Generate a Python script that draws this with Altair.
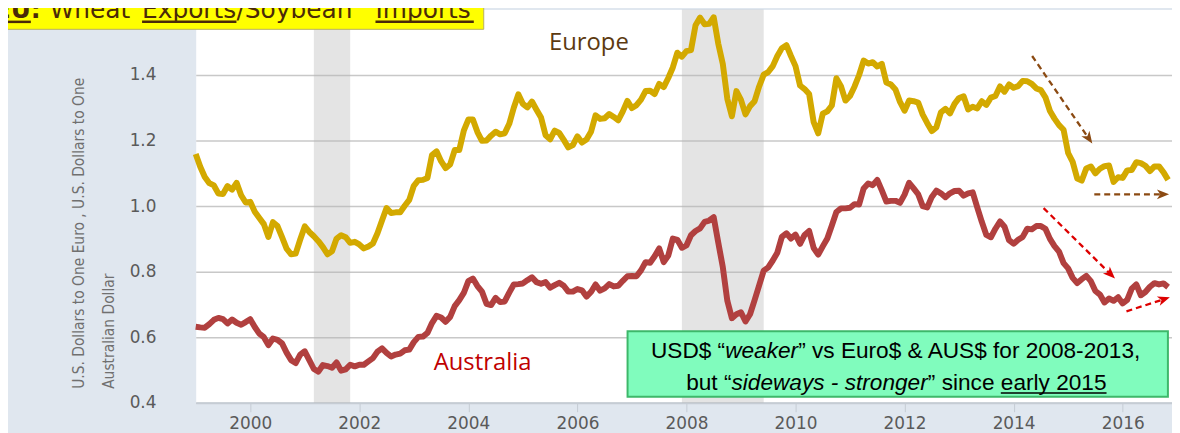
import math
import altair as alt
import pandas as pd

# ---------------- data (monthly, Jan 1999 .. Nov 2016) ----------------
START_YEAR = 1999
europe = [
    1.159, 1.120, 1.089, 1.070, 1.063, 1.038, 1.037, 1.061, 1.050, 1.071, 1.033, 1.011,
    1.013, 0.983, 0.964, 0.945, 0.906, 0.951, 0.939, 0.905, 0.870, 0.853, 0.855, 0.898,
    0.938, 0.921, 0.908, 0.893, 0.875, 0.853, 0.862, 0.901, 0.911, 0.905, 0.888, 0.891,
    0.883, 0.871, 0.877, 0.886, 0.917, 0.956, 0.994, 0.979, 0.981, 0.981, 1.001, 1.019,
    1.062, 1.079, 1.080, 1.086, 1.156, 1.167, 1.137, 1.116, 1.127, 1.171, 1.171, 1.230,
    1.264, 1.264, 1.226, 1.199, 1.200, 1.215, 1.227, 1.219, 1.222, 1.251, 1.300, 1.341,
    1.312, 1.301, 1.319, 1.294, 1.270, 1.216, 1.204, 1.230, 1.223, 1.202, 1.179, 1.186,
    1.213, 1.194, 1.203, 1.227, 1.277, 1.266, 1.268, 1.281, 1.272, 1.262, 1.289, 1.321,
    1.299, 1.308, 1.325, 1.351, 1.352, 1.342, 1.373, 1.363, 1.391, 1.423, 1.468, 1.456,
    1.473, 1.476, 1.552, 1.575, 1.555, 1.556, 1.576, 1.496, 1.434, 1.327, 1.274, 1.351,
    1.324, 1.280, 1.305, 1.320, 1.365, 1.401, 1.409, 1.427, 1.458, 1.482, 1.491, 1.458,
    1.427, 1.368, 1.357, 1.342, 1.256, 1.222, 1.282, 1.289, 1.307, 1.390, 1.366, 1.322,
    1.336, 1.365, 1.400, 1.444, 1.435, 1.439, 1.426, 1.434, 1.377, 1.371, 1.356, 1.318,
    1.291, 1.322, 1.320, 1.316, 1.279, 1.253, 1.229, 1.240, 1.286, 1.297, 1.283, 1.312,
    1.330, 1.335, 1.295, 1.303, 1.298, 1.320, 1.309, 1.331, 1.336, 1.365, 1.349, 1.371,
    1.361, 1.366, 1.382, 1.381, 1.373, 1.359, 1.354, 1.332, 1.290, 1.267, 1.247, 1.233,
    1.162, 1.135, 1.084, 1.078, 1.115, 1.121, 1.100, 1.114, 1.122, 1.124, 1.074, 1.088,
    1.086, 1.109, 1.110, 1.134, 1.131, 1.123, 1.107, 1.121, 1.121, 1.103, 1.080,
]
australia = [
    0.632, 0.630, 0.629, 0.640, 0.653, 0.659, 0.655, 0.642, 0.654, 0.644, 0.638, 0.646,
    0.655, 0.631, 0.611, 0.600, 0.576, 0.596, 0.592, 0.581, 0.553, 0.530, 0.521, 0.547,
    0.557, 0.530, 0.503, 0.495, 0.515, 0.512, 0.507, 0.523, 0.498, 0.502, 0.516, 0.511,
    0.516, 0.516, 0.526, 0.536, 0.556, 0.566, 0.552, 0.541, 0.547, 0.550, 0.560, 0.562,
    0.585, 0.601, 0.602, 0.613, 0.643, 0.665, 0.660, 0.647, 0.662, 0.695, 0.713, 0.735,
    0.771, 0.779, 0.756, 0.739, 0.702, 0.698, 0.720, 0.707, 0.709, 0.736, 0.761, 0.762,
    0.764, 0.774, 0.783, 0.768, 0.763, 0.768, 0.751, 0.759, 0.766, 0.757, 0.739, 0.739,
    0.747, 0.743, 0.724, 0.738, 0.761, 0.742, 0.749, 0.762, 0.755, 0.757, 0.772, 0.786,
    0.787, 0.786, 0.804, 0.829, 0.827, 0.847, 0.871, 0.829, 0.849, 0.901, 0.897, 0.873,
    0.880, 0.911, 0.924, 0.932, 0.952, 0.956, 0.966, 0.889, 0.814, 0.711, 0.658, 0.670,
    0.676, 0.648, 0.670, 0.713, 0.758, 0.803, 0.813, 0.834, 0.858, 0.906, 0.917, 0.901,
    0.913, 0.885, 0.912, 0.924, 0.872, 0.852, 0.877, 0.901, 0.941, 0.982, 0.993, 0.993,
    0.995, 1.006, 1.005, 1.054, 1.069, 1.064, 1.080, 1.048, 1.014, 1.016, 1.016, 1.010,
    1.035, 1.071, 1.054, 1.036, 1.000, 0.996, 1.028, 1.047, 1.039, 1.027, 1.039, 1.046,
    1.047, 1.032, 1.039, 1.042, 0.996, 0.952, 0.912, 0.905, 0.931, 0.953, 0.937, 0.896,
    0.885, 0.897, 0.906, 0.931, 0.929, 0.939, 0.939, 0.931, 0.900, 0.878, 0.861, 0.826,
    0.810, 0.781, 0.765, 0.777, 0.787, 0.771, 0.741, 0.730, 0.706, 0.718, 0.711, 0.722,
    0.703, 0.714, 0.748, 0.761, 0.728, 0.738, 0.754, 0.765, 0.761, 0.764, 0.753,
]
# recessions (year, month)
recession_start = [(2001, 3), (2007, 12)]
recession_end = [(2001, 11), (2009, 6)]

x_ticks = [2000, 2002, 2004, 2006, 2008, 2010, 2012, 2014, 2016]
y_ticks = [0.4, 0.6, 0.8, 1.0, 1.2, 1.4]

# annotation anchors (in data units)
label_europe = {"x": 2006.21, "y": 1.497}
label_australia = {"x": 2004.26, "y": 0.521}
brown_arrows = [(2014.34, 1.458, 2015.38, 1.206), (2015.48, 1.036, 2016.74, 1.036)]
red_arrows = [(2014.55, 0.994, 2015.78, 0.792), (2016.07, 0.679, 2016.76, 0.716)]
box = {"x": 2006.92, "x2": 2016.83, "y": 0.418, "y2": 0.618}
box_text_x = 2011.85
box_line1_y = 0.536
box_line2_y = 0.439

# ---------------- layout ----------------
W, H = 983, 396
X_MIN = 1999.0
X_MAX = 2016.905
PX_PER_YEAR = W / (X_MAX - X_MIN)
PX_PER_UNIT = H / 1.2

GOLD = "#D3A900"
RED = "#B1403F"
BROWN = "#8B4A12"
ARROW_RED = "#DD0000"

xs = alt.Scale(domain=[X_MIN, X_MAX], nice=False, zero=False)
ys = alt.Scale(domain=[0.4, 1.6], nice=False, zero=False)
xaxis = alt.Axis(values=x_ticks, format="d", grid=False, tickSize=9, tickColor="#c5ccd4",
                 domainColor="#c5ccd4", domainWidth=2, labelFont="DejaVu Sans",
                 labelFontSize=17, labelColor="#5a5a5a", labelPadding=4, title="")
yaxis = alt.Axis(values=y_ticks, format=".1f", grid=True, gridColor="#c8c8c8", gridWidth=1.5,
                 ticks=False, tickSize=0, domain=False, labelPadding=40,
                 labelFont="DejaVu Sans", labelFontSize=17, labelColor="#5a5a5a", title="")


def X(f="x"):
    return alt.X(f"{f}:Q", scale=xs, axis=xaxis, title="")


def Y(f="y"):
    return alt.Y(f"{f}:Q", scale=ys, axis=yaxis, title="")


layers = []

bands = pd.DataFrame({
    "x": [y + (m - 1) / 12 for y, m in recession_start],
    "x2": [y + (m - 1) / 12 for y, m in recession_end],
    "y": [0.4, 0.4],
    "y2": [1.6, 1.6],
})
layers.append(alt.Chart(bands).mark_rect(color="#b4b4b4", opacity=0.36).encode(
    x=X(), x2="x2:Q", y=Y(), y2="y2:Q"))

for vals, col in [(europe, GOLD), (australia, RED)]:
    df = pd.DataFrame({"x": [START_YEAR + i / 12 for i in range(len(vals))], "y": vals})
    layers.append(alt.Chart(df).mark_line(color=col, strokeWidth=6, strokeJoin="round").encode(
        x=X(), y=Y()))

layers.append(alt.Chart(pd.DataFrame([label_europe])).mark_text(
    text="Europe", font="Open Sans", fontSize=24, color="#5C3A10", baseline="middle").encode(x=X(), y=Y()))
layers.append(alt.Chart(pd.DataFrame([label_australia])).mark_text(
    text="Australia", font="Open Sans", fontSize=24, color="#C00000", baseline="middle").encode(x=X(), y=Y()))

ARROW_PATH = "M1,0L-1,-0.8L-0.45,0L-1,0.8Z"


def arrow_layers(arrows, col):
    rules = pd.DataFrame([{"x": a[0], "y": a[1], "x2": a[2], "y2": a[3]} for a in arrows])
    heads = pd.DataFrame([{
        "x": a[2], "y": a[3],
        "angle": math.degrees(math.atan2(-(a[3] - a[1]) * PX_PER_UNIT, (a[2] - a[0]) * PX_PER_YEAR)) % 360,
    } for a in arrows])
    r = alt.Chart(rules).mark_rule(color=col, strokeWidth=2.3, strokeDash=[6, 4]).encode(
        x=X(), y=Y(), x2="x2:Q", y2="y2:Q")
    h = alt.Chart(heads).mark_point(shape=ARROW_PATH, filled=True, size=150, color=col,
                                    opacity=1, strokeWidth=0).encode(
        x=X(), y=Y(), angle=alt.Angle("angle:Q", scale=None))
    return [r, h]


layers += arrow_layers(brown_arrows, BROWN)
layers += arrow_layers(red_arrows, ARROW_RED)

layers.append(alt.Chart(pd.DataFrame([box])).mark_rect(
    fill="#80FCBD", stroke="#3DB86A", strokeWidth=2).encode(x=X(), x2="x2:Q", y=Y(), y2="y2:Q"))

ARIAL = {' ': 278, '“': 333, '”': 333, '$': 556, '&': 667, ',': 278, '-': 333,
         'A': 667, 'D': 722, 'E': 667, 'S': 667, 'U': 722,
         'a': 556, 'b': 556, 'c': 500, 'd': 556, 'e': 556, 'f': 278, 'g': 556, 'i': 222,
         'k': 500, 'l': 222, 'n': 556, 'o': 556, 'r': 333, 's': 500, 't': 278, 'u': 556,
         'v': 500, 'w': 722, 'y': 500}
BOX_FONT = "Liberation Sans"
BOX_SIZE = 22.8


def tw(s):
    return sum(ARIAL.get(c, 556) for c in s) * BOX_SIZE / 1000


def text_line(segments, yv):
    out = []
    total = sum(tw(s) for s, _ in segments)
    pos = -total / 2
    pt = pd.DataFrame([{"x": box_text_x, "y": yv}])
    for s, style in segments:
        props = dict(text=s, align="left", baseline="alphabetic", dx=pos, font=BOX_FONT,
                     fontSize=BOX_SIZE, color="#000000")
        if style == "italic":
            props["fontStyle"] = "italic"
        out.append(alt.Chart(pt).mark_text(**props).encode(x=X(), y=Y()))
        if style == "underline":
            out.append(alt.Chart(pt).mark_rule(color="#000000", strokeWidth=1.6, xOffset=pos,
                                               x2Offset=pos + tw(s), yOffset=3).encode(
                x=X(), x2="x:Q", y=Y()))
        pos += tw(s)
    return out


layers += text_line([("USD$ “", "normal"), ("weaker", "italic"),
                     ("” vs Euro$ & AUS$ for 2008-2013,", "normal")], box_line1_y)
layers += text_line([("but “", "normal"), ("sideways - stronger", "italic"),
                     ("” since ", "normal"), ("early 2015", "underline")], box_line2_y)

one = pd.DataFrame({"a": [1]})
for txt, xv in [("U.S. Dollars to One Euro , U.S. Dollars to One", -112),
                ("Australian Dollar", -82)]:
    layers.append(alt.Chart(one).mark_text(
        text=txt, angle=270, align="left", baseline="alphabetic",
        font="Liberation Sans Narrow, DejaVu Sans Condensed, sans-serif",
        fontSize=15.5, color="#707070").encode(x=alt.value(xv), y=alt.value(382)))

layers.append(alt.Chart(one).mark_rect(fill="#FFFF00", stroke="#B8B060", strokeWidth=1).encode(
    x=alt.value(-190), x2=alt.value(290), y=alt.value(-2), y2=alt.value(20)))
TITLE_COL = "#4A2A08"
for txt, xv, al, bold in [("EU", -166, "right", True), (":", -166, "left", True),
                          ("Wheat", -147, "left", False), ("Exports", -54, "left", False),
                          ("/Soybean", 41, "left", False), ("Imports", 181, "left", False)]:
    layers.append(alt.Chart(one).mark_text(
        text=txt, align=al, baseline="alphabetic", font="DejaVu Sans", fontSize=25,
        fontWeight="bold" if bold else "normal", color=TITLE_COL).encode(
        x=alt.value(xv), y=alt.value(9)))
for x1, x2 in [(-192, -166), (-54, 41), (181, 280)]:
    layers.append(alt.Chart(one).mark_rule(color=TITLE_COL, strokeWidth=2.5).encode(
        x=alt.value(x1), x2=alt.value(x2), y=alt.value(12.5)))

chart = alt.layer(*layers).properties(
    width=W, height=H,
    padding={"left": 189, "top": 0, "right": 0, "bottom": 29},
    autosize=alt.AutoSizeParams(type="none"),
).configure(background="#E0E7EF").configure_view(stroke="transparent", fill="#FFFFFF")

chart.save("out.html", embed_options={"renderer": "svg", "actions": False})
